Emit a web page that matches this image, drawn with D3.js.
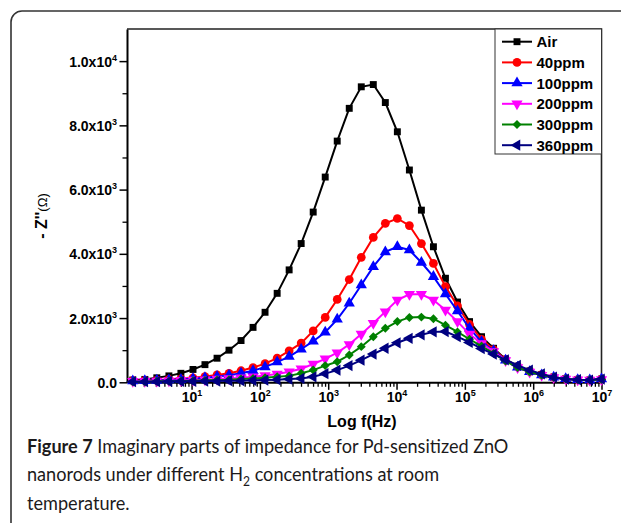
<!DOCTYPE html>
<html>
<head>
<meta charset="utf-8">
<script src="https://cdn.jsdelivr.net/npm/d3@7/dist/d3.min.js"></script>
<style>
  body { margin: 0; background: #fff; }
  svg text { font-family: "Liberation Sans", Arial, sans-serif; }
</style>
</head>
<body>
<svg id="chart" width="621" height="523"></svg>
<script>
// frequencies (Hz) of the measured points
var freqs = [1.38, 2.07, 3.10, 4.66, 6.98, 10.5, 15.7, 23.6, 35.3, 53.0,
  79.4, 119, 179, 268, 402, 603, 904, 1355, 2032, 3048,
  4571, 6855, 10280, 15420, 23120, 34670, 52000, 77980, 117000, 175400,
  263000, 394500, 591600, 887200, 1330000, 1995000, 2992000, 4487000, 6730000, 10000000];

// -Z'' (ohm)
var air = [70, 90, 140, 200, 280, 400, 550, 750, 1000, 1300,
  1710, 2180, 2770, 3500, 4320, 5300, 6390, 7510, 8530, 9200,
  9270, 8710, 7800, 6610, 5360, 4220, 3240, 2500, 1890, 1420,
  1060, 720, 500, 350, 240, 160, 110, 80, 70, 100];
var ppm40 = [50, 60, 70, 90, 110, 140, 180, 230, 280, 360,
  460, 580, 750, 980, 1220, 1600, 2020, 2580, 3200, 3890,
  4510, 4950, 5100, 4880, 4320, 3700, 2980, 2380, 1800, 1340,
  1020, 710, 490, 340, 240, 160, 110, 80, 70, 100];
var ppm100 = [40, 50, 60, 70, 90, 110, 140, 180, 220, 280,
  360, 480, 630, 800, 1030, 1280, 1560, 1960, 2460, 3030,
  3600, 4060, 4220, 4120, 3730, 3290, 2750, 2220, 1680, 1260,
  980, 690, 470, 330, 230, 160, 110, 80, 70, 100];
var ppm200 = [30, 30, 40, 50, 60, 70, 80, 100, 120, 140,
  170, 210, 260, 330, 420, 570, 730, 920, 1180, 1500,
  1840, 2200, 2560, 2740, 2740, 2560, 2250, 1890, 1500, 1210,
  960, 680, 460, 320, 220, 150, 100, 80, 70, 90];
var ppm300 = [20, 20, 30, 30, 40, 50, 60, 70, 80, 100,
  120, 140, 170, 200, 280, 380, 520, 640, 850, 1110,
  1420, 1680, 1890, 2020, 2030, 1980, 1780, 1570, 1340, 1130,
  900, 660, 460, 320, 220, 150, 100, 80, 70, 90];
var ppm360 = [20, 20, 20, 30, 30, 30, 40, 40, 50, 50,
  60, 70, 80, 100, 120, 170, 270, 380, 520, 690,
  880, 1060, 1230, 1370, 1480, 1570, 1580, 1420, 1240, 1050,
  880, 700, 530, 380, 260, 160, 100, 80, 70, 100];

var seriesNames = ['Air', '40ppm', '100ppm', '200ppm', '300ppm', '360ppm'];
var seriesValues = [air, ppm40, ppm100, ppm200, ppm300, ppm360];
var seriesColours = ['#000000', '#ff0000', '#0000ff', '#ff00ff', '#008000', '#000080'];

var yTicks = [0, 2000, 4000, 6000, 8000, 10000];
var yTickLabels = [['0.0', ''], ['2.0x10', '3'], ['4.0x10', '3'], ['6.0x10', '3'], ['8.0x10', '3'], ['1.0x10', '4']];
var yMinor = [1000, 3000, 5000, 7000, 9000];
var xTicks = [1e1, 1e2, 1e3, 1e4, 1e5, 1e6, 1e7];
var xTickExp = ['1', '2', '3', '4', '5', '6', '7'];

var svg = d3.select('#chart');

// rounded frame of the figure panel
svg.append('rect')
  .attr('x', 11).attr('y', 11)
  .attr('width', 700).attr('height', 600)
  .attr('rx', 11)
  .attr('fill', 'none')
  .attr('stroke', '#333')
  .attr('stroke-width', 1.6);

var plotLeft = 127, plotRight = 601.5, plotTop = 29, plotBottom = 382.3;

var x = d3.scaleLog().domain([1.135, 1e7]).range([plotLeft, plotRight]);
var y = d3.scaleLinear().domain([0, 11000]).range([plotBottom, plotTop]);

// plot frame (top + right)
svg.append('path')
  .attr('d', 'M' + plotLeft + ',' + plotTop + 'H' + plotRight + 'V' + plotBottom)
  .attr('fill', 'none')
  .attr('stroke', '#222')
  .attr('stroke-width', 1.6);

// minor x ticks: 2..9 in each decade
var xMinor = [];
[1, 10, 100, 1e3, 1e4, 1e5, 1e6].forEach(function(d){
  for (var k = 2; k <= 9; k++) xMinor.push(d * k);
});
xMinor = xMinor.filter(function(v){ return v > 1.135 && v < 1e7; });

svg.append('g')
  .attr('transform', 'translate(0,' + plotBottom + ')')
  .call(d3.axisBottom(x).tickValues(xMinor).tickSize(4.5).tickFormat(''))
  .call(function(g){ g.select('.domain').remove(); g.selectAll('line').attr('stroke-width', 1.3); });

var xAxis = svg.append('g')
  .attr('transform', 'translate(0,' + plotBottom + ')')
  .call(d3.axisBottom(x).tickValues(xTicks).tickSize(7.5).tickSizeOuter(0).tickFormat(''));
xAxis.select('.domain').attr('stroke-width', 2);
xAxis.selectAll('line').attr('stroke-width', 1.5);

xAxis.selectAll('.tick').append('text')
  .attr('y', 19.5)
  .attr('fill', '#000')
  .attr('font-size', 14)
  .attr('font-weight', 'bold')
  .attr('text-anchor', 'middle')
  .each(function(d, i){
    var t = d3.select(this);
    t.append('tspan').text('10');
    t.append('tspan').attr('dy', -6).attr('font-size', 9).text(xTickExp[i]);
  });

svg.append('g')
  .attr('transform', 'translate(' + plotLeft + ',0)')
  .call(d3.axisLeft(y).tickValues(yMinor).tickSize(4.5).tickFormat(''))
  .call(function(g){ g.select('.domain').remove(); g.selectAll('line').attr('stroke-width', 1.3); });

var yAxis = svg.append('g')
  .attr('transform', 'translate(' + plotLeft + ',0)')
  .call(d3.axisLeft(y).tickValues(yTicks).tickSize(7.5).tickSizeOuter(0).tickFormat(''));
yAxis.select('.domain').attr('stroke-width', 2);
yAxis.selectAll('line').attr('stroke-width', 1.5);

yAxis.selectAll('.tick').append('text')
  .attr('x', -10)
  .attr('y', 5)
  .attr('fill', '#000')
  .attr('font-size', 14)
  .attr('font-weight', 'bold')
  .attr('text-anchor', 'end')
  .each(function(d, i){
    var t = d3.select(this);
    t.append('tspan').text(yTickLabels[i][0]);
    if (yTickLabels[i][1]) t.append('tspan').attr('dy', -6).attr('font-size', 9).text(yTickLabels[i][1]);
  });

// axis titles
svg.append('text')
  .attr('x', 362).attr('y', 427)
  .attr('text-anchor', 'middle')
  .attr('font-size', 16)
  .attr('font-weight', 'bold')
  .text('Log f(Hz)');

var yt = svg.append('text')
  .attr('transform', 'translate(47,216) rotate(-90)')
  .attr('text-anchor', 'middle')
  .attr('font-size', 16)
  .attr('font-weight', 'bold');
yt.append('tspan').text("- Z''");
yt.append('tspan').attr('font-weight', 'normal').attr('font-size', 13).text('(\u03A9)');

// marker shapes
var shapes = [
  { type: d3.symbolSquare, size: 48, rot: 0 },
  { type: d3.symbolCircle, size: 60, rot: 0 },
  { type: d3.symbolTriangle, size: 55, rot: 0 },
  { type: d3.symbolTriangle, size: 55, rot: 180 },
  { type: d3.symbolSquare, size: 40, rot: 45 },
  { type: d3.symbolTriangle, size: 55, rot: -90 }
];

var line = d3.line()
  .x(function(d){ return x(d.f); })
  .y(function(d){ return y(d.v); });

seriesValues.forEach(function(vals, s){
  var pts = freqs.map(function(f, i){ return { f: f, v: vals[i] }; });
  var g = svg.append('g').attr('class', 'series');
  g.append('path')
    .datum(pts)
    .attr('d', line)
    .attr('fill', 'none')
    .attr('stroke', seriesColours[s])
    .attr('stroke-width', 2);
  g.selectAll('path.mk')
    .data(pts)
    .enter().append('path')
    .attr('class', 'mk')
    .attr('d', d3.symbol().type(shapes[s].type).size(shapes[s].size))
    .attr('transform', function(d){ return 'translate(' + x(d.f) + ',' + y(d.v) + ') rotate(' + shapes[s].rot + ')'; })
    .attr('fill', seriesColours[s]);
});

// legend
var lg = svg.append('g');
lg.append('rect')
  .attr('x', 495).attr('y', 29)
  .attr('width', 106.5).attr('height', 125)
  .attr('fill', '#fff')
  .attr('stroke', '#333')
  .attr('stroke-width', 1);

seriesNames.forEach(function(name, s){
  var ly = 41.7 + s * 20.7;
  lg.append('line')
    .attr('x1', 502).attr('x2', 532)
    .attr('y1', ly).attr('y2', ly)
    .attr('stroke', seriesColours[s])
    .attr('stroke-width', 2);
  lg.append('path')
    .attr('d', d3.symbol().type(shapes[s].type).size(shapes[s].size))
    .attr('transform', 'translate(517,' + ly + ') rotate(' + shapes[s].rot + ')')
    .attr('fill', seriesColours[s]);
  lg.append('text')
    .attr('x', 536.5).attr('y', ly + 5.5)
    .attr('font-size', 15)
    .attr('font-weight', 'bold')
    .text(name);
});

// caption (slightly condensed to match the original typeface width)
var capFont = 'Lato, "Open Sans", sans-serif';
var cap = svg.append('g')
  .attr('fill', '#1c1a1b')
  .attr('transform', 'translate(27,0) scale(0.93,1)');
var c1 = cap.append('text').attr('x', 0).attr('y', 453).style('font-family', capFont).attr('font-size', 19.5);
c1.append('tspan').attr('font-weight', 'bold').text('Figure 7');
c1.append('tspan').text(' Imaginary parts of impedance for Pd-sensitized ZnO');
var c2 = cap.append('text').attr('x', 0).attr('y', 481.5).style('font-family', capFont).attr('font-size', 19.5);
c2.append('tspan').text('nanorods under different H');
c2.append('tspan').attr('dy', 5).attr('font-size', 13).text('2');
c2.append('tspan').attr('dy', -5).text(' concentrations at room');
cap.append('text').attr('x', 0).attr('y', 510).style('font-family', capFont).attr('font-size', 19.5)
  .text('temperature.');
</script>
</body>
</html>
